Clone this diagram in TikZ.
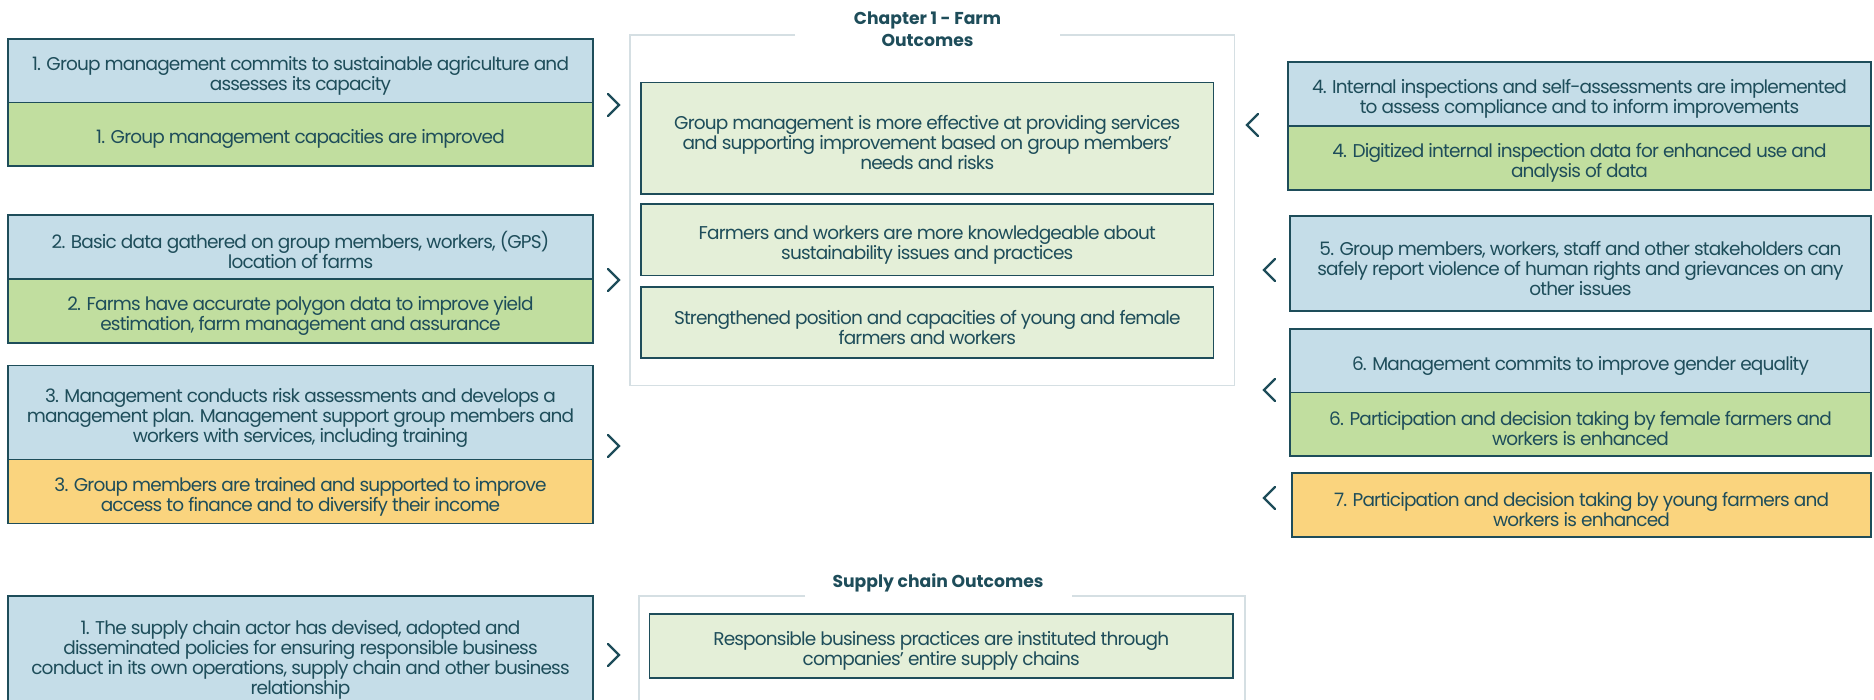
\documentclass[tikz,border=0pt]{standalone}
\usepackage{fontspec}
\setmainfont{Poppins}[LetterSpace=-4.5]
\newfontfamily\titlefont{Poppins}
\definecolor{ink}{HTML}{1E4D5A}
\definecolor{bluef}{HTML}{C5DDE8}
\definecolor{greenf}{HTML}{C1DE9F}
\definecolor{yellowf}{HTML}{FAD47E}
\definecolor{paleg}{HTML}{E4EFD8}
\definecolor{framec}{HTML}{D5DFE3}
\newcommand{\ts}{\rule{0pt}{24pt}}
\newcommand{\bs}{\rule[-0.8pt]{0pt}{0.8pt}}
\begin{document}
\begin{tikzpicture}[x=1pt,y=-1pt,
  box/.style={draw=ink, line width=1.3pt, inner sep=0pt, align=center, text=ink,
    font=\fontsize{18.5}{20}\selectfont},
  leftbox/.style={box, minimum width=585pt},
  rightbox/.style={box, minimum width=583pt},
  outbox/.style={box, fill=paleg, minimum width=572.5pt},
  blue/.style={fill=bluef}, green/.style={fill=greenf}, yellow/.style={fill=yellowf},
  titletext/.style={inner sep=0pt, align=center, text=ink, font=\titlefont\fontsize{17.2}{22}\selectfont\bfseries},
  frameline/.style={draw=framec, line width=1.6pt},
  chev/.style={draw=ink, line width=2.2pt, line cap=round, line join=miter}]
\fill[white] (0,0) rectangle (1874,700);
\clip (0,0) rectangle (1874,700);
\useasboundingbox (0,0) rectangle (1874,700);

% Chapter 1 frame
\draw[frameline] (795,35) -- (630,35) -- (630,385.5) -- (1234.5,385.5) -- (1234.5,35) -- (1060,35);
\node[titletext] (t1) at (927.5,29) {Chapter 1 - Farm\\Outcomes};

% Left groups
\node[leftbox, blue, minimum height=63.5pt] (g1a) at (300.5,70.75) {\ts 1. Group management commits to sustainable agriculture and\\assesses its capacity\bs};
\node[leftbox, green, minimum height=63.5pt] (g1b) at (300.5,134.25) {\ts 1. Group management capacities are improved\bs};
\node[leftbox, blue, minimum height=64pt] (g2a) at (300.5,247) {\ts 2. Basic data gathered on group members, workers, (GPS)\\location of farms\bs};
\node[leftbox, green, minimum height=64pt] (g2b) at (300.5,311) {\ts 2. Farms have accurate polygon data to improve yield\\estimation, farm management and assurance\bs};
\node[leftbox, blue, minimum height=94pt] (g3a) at (300.5,412.5) {\ts 3. Management conducts risk assessments and develops a\\management plan. Management support group members and\\workers with services, including training\bs};
\node[leftbox, yellow, minimum height=64pt] (g3b) at (300.5,491.5) {\ts 3. Group members are trained and supported to improve\\access to finance and to diversify their income\bs};

% Outcomes
\node[outbox, minimum height=111.5pt] (oa) at (927.25,138.25) {\ts Group management is more effective at providing services\\and supporting improvement based on group members'\\needs and risks\bs};
\node[outbox, minimum height=71.5pt] (ob) at (927.25,239.75) {\ts Farmers and workers are more knowledgeable about\\sustainability issues and practices\bs};
\node[outbox, minimum height=71pt] (oc) at (927.25,322.5) {\ts Strengthened position and capacities of young and female\\farmers and workers\bs};

% Right groups
\node[rightbox, blue, minimum height=64pt] (r4a) at (1579.5,94) {\ts 4. Internal inspections and self-assessments are implemented\\to assess compliance and to inform improvements\bs};
\node[rightbox, green, minimum height=64pt] (r4b) at (1579.5,158) {\ts 4. Digitized internal inspection data for enhanced use and\\analysis of data\bs};
\node[box, blue, minimum width=581pt, minimum height=95pt] (r5) at (1580.5,263.5) {\ts 5. Group members, workers, staff and other stakeholders can\\safely report violence of human rights and grievances on any\\other issues\bs};
\node[box, blue, minimum width=581pt, minimum height=63.5pt] (r6a) at (1580.5,360.75) {\ts 6. Management commits to improve gender equality\bs};
\node[box, green, minimum width=581pt, minimum height=63.5pt] (r6b) at (1580.5,424.25) {\ts 6. Participation and decision taking by female farmers and\\workers is enhanced\bs};
\node[box, yellow, minimum width=579pt, minimum height=64pt] (r7) at (1581.5,505) {\ts 7. Participation and decision taking by young farmers and\\workers is enhanced\bs};

% Supply chain
\draw[frameline] (805,596) -- (639,596) -- (639,710);
\draw[frameline] (1072,596) -- (1245,596) -- (1245,710);
\node[titletext] (t2) at (938,583) {Supply chain Outcomes};
\node[leftbox, blue, minimum height=118pt] (s1) at (300.5,655) {\ts 1. The supply chain actor has devised, adopted and\\disseminated policies for ensuring responsible business\\conduct in its own operations, supply chain and other business\\relationship\bs};
\node[box, fill=paleg, minimum width=583.5pt, minimum height=64pt] (so) at (941.25,646) {\ts Responsible business practices are instituted through\\companies' entire supply chains\bs};

% Chevrons
\coordinate (c1) at (613.5,105);
\coordinate (c2) at (613.5,280);
\coordinate (c3) at (613.5,446);
\coordinate (c4) at (613.5,655);
\coordinate (c5) at (1252.5,125);
\coordinate (c6) at (1269.5,270);
\coordinate (c7) at (1269.5,390);
\coordinate (c8) at (1269.5,498);
\foreach \c in {c1,c2,c3,c4}
  \draw[chev] ([shift={(-5.5,-11)}]\c) -- ([shift={(5.5,0)}]\c) -- ([shift={(-5.5,11)}]\c);
\foreach \c in {c5,c6,c7,c8}
  \draw[chev] ([shift={(5.5,-11)}]\c) -- ([shift={(-5.5,0)}]\c) -- ([shift={(5.5,11)}]\c);
\end{tikzpicture}
\end{document}
